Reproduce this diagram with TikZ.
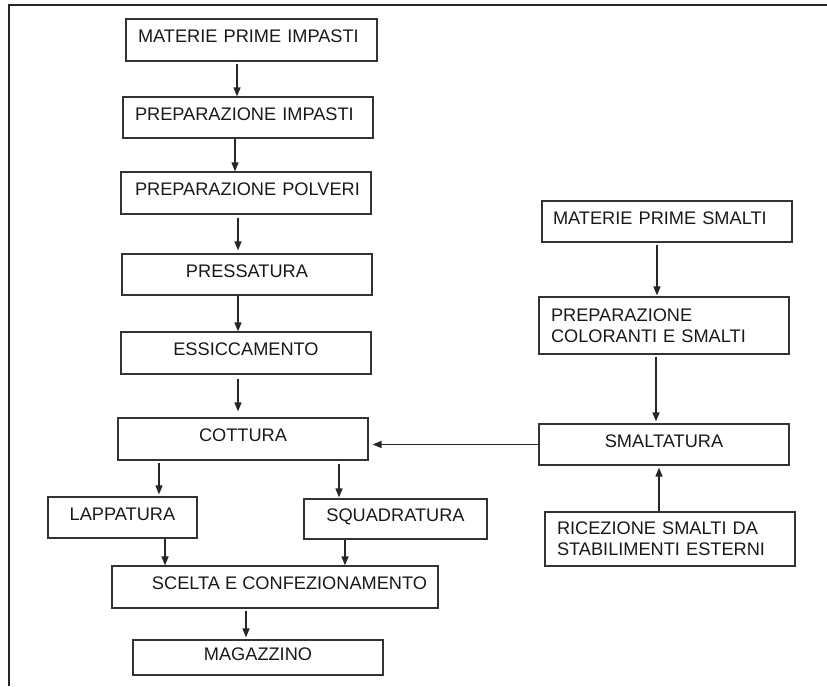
\documentclass[tikz,border=0pt]{standalone}
\usepackage{fontspec}
\setmainfont{Liberation Sans}
\usetikzlibrary{arrows.meta}
\begin{document}
\begin{tikzpicture}[x=1pt,y=-1pt,
  box/.style={draw=black!80, line width=1.2pt, inner xsep=0pt, inner ysep=0pt,
    font=\fontsize{18.2}{21}\selectfont, text=black!90},
  one/.style={text height=13.1pt, text depth=7.3pt},
  lft/.style={align=left},
  arr/.style={draw=black!85, line width=1.4pt, -{Triangle[length=9pt,width=7pt]}}]
\useasboundingbox (0,0) rectangle (827,686);
\draw[line width=1.3pt, black!85] (827,5) -- (9,5) -- (9,686);

% left column
\node[box, one, lft, text width=251pt, minimum height=42pt] (m1) at (251.5,40) {\hspace*{12pt}MATERIE PRIME IMPASTI};
\node[box, one, lft, text width=250pt, minimum height=41pt] (m2) at (248,117.5) {\hspace*{12pt}PREPARAZIONE IMPASTI};
\node[box, one, lft, text width=250pt, minimum height=42pt] (m3) at (246,193) {\hspace*{14pt}PREPARAZIONE POLVERI};
\node[box, one, minimum width=250pt, minimum height=41pt] (m4) at (247,274.5) {PRESSATURA};
\node[box, one, minimum width=250pt, minimum height=42pt] (m5) at (246,353) {ESSICCAMENTO};
\node[box, one, minimum width=250pt, minimum height=42pt] (m6) at (243,439) {COTTURA};
\node[box, one, minimum width=149pt, minimum height=41pt] (lap) at (122.5,517.5) {LAPPATURA};
\node[box, one, minimum width=183pt, minimum height=40pt] (sq) at (395.5,519) {SQUADRATURA};
\node[box, one, minimum width=326pt, minimum height=42pt] (sc) at (275,587) {\hspace*{29pt}SCELTA E CONFEZIONAMENTO};
\node[box, one, minimum width=250pt, minimum height=35pt] (mag) at (258,657.5) {MAGAZZINO};

% right column
\node[box, one, lft, text width=250pt, minimum height=41pt] (s1) at (667,221.5) {\hspace*{11pt}MATERIE PRIME SMALTI};
\node[box, lft, text width=250pt, minimum height=57pt] (s2) at (664,325.5) {\hspace*{12pt}PREPARAZIONE\\\hspace*{12pt}COLORANTI E SMALTI};
\node[box, one, minimum width=250pt, minimum height=41pt] (s3) at (664,444.5) {SMALTATURA};
\node[box, lft, text width=250pt, minimum height=54pt] (ric) at (670,539) {\hspace*{12pt}RICEZIONE SMALTI DA\\\hspace*{12pt}STABILIMENTI ESTERNI};

% connectors
\draw[arr, shorten <=2pt] (m1.south -| 237,0) -- (m2.north -| 237,0);
\draw[arr] (m2.south -| 235,0) -- (m3.north -| 235,0);
\draw[arr, shorten <=3pt, shorten >=3pt] (m3.south -| 238,0) -- (m4.north -| 238,0);
\draw[arr] (m4.south -| 238,0) -- (m5.north -| 238,0);
\draw[arr, shorten <=4pt, shorten >=6pt] (m5.south -| 238,0) -- (m6.north -| 238,0);
\draw[arr, shorten <=2pt, shorten >=2pt] (m6.south -| 159,0) -- (lap.north -| 159,0);
\draw[arr, shorten <=3pt, shorten >=1pt] (m6.south -| 339,0) -- (sq.north -| 339,0);
\draw[arr] (lap.south -| 165,0) -- (sc.north -| 165,0);
\draw[arr] (sq.south -| 345,0) -- (sc.north -| 345,0);
\draw[arr, shorten <=2pt, shorten >=2pt] (sc.south -| 246,0) -- (mag.north -| 246,0);
\draw[arr, shorten <=2pt, shorten >=1pt] (s1.south -| 657,0) -- (s2.north -| 657,0);
\draw[arr, shorten <=2pt, shorten >=2pt] (s2.south -| 656,0) -- (s3.north -| 656,0);
\draw[arr, shorten >=2pt] (ric.north -| 659,0) -- (s3.south -| 659,0);
\draw[arr, shorten >=4pt] (s3.west) -- (s3.west -| m6.east);
\end{tikzpicture}
\end{document}
